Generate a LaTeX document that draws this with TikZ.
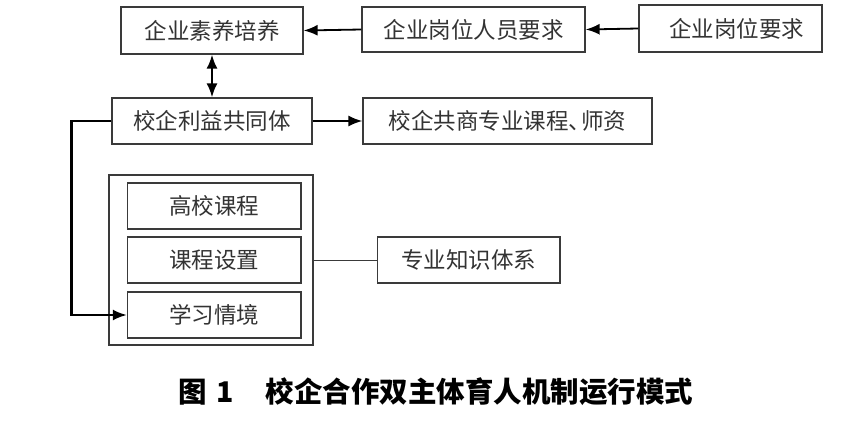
\documentclass[tikz,border=0pt]{standalone}
\usepackage{fontspec}
\newfontfamily\cjk{Noto Sans CJK SC}
\usetikzlibrary{arrows.meta}
\definecolor{boxline}{HTML}{3A3A3A}
\definecolor{txt}{HTML}{333333}
\tikzset{
  box/.style={draw=boxline, line width=1.3pt, inner sep=0pt, font=\cjk\fontsize{22.5}{26}\selectfont, text=txt},
  arr/.style={line width=1.8pt, -{Latex[length=14pt,width=11pt]}},
}
\begin{document}
\begin{tikzpicture}[x=1pt,y=-1pt]
\useasboundingbox (0,0) rectangle (850,420);
\node[box, minimum width=182pt, minimum height=47pt] (A) at (212,30.5) {企业素养培养};
\node[box, minimum width=223pt, minimum height=45pt] (B) at (473.5,29.5) {企业岗位人员要求};
\node[box, minimum width=183pt, minimum height=47pt] (C) at (730.5,28.5) {\hspace*{12pt}企业岗位要求};
\node[box, minimum width=200pt, minimum height=46pt] (D) at (212,121) {校企利益共同体};
\node[box, minimum width=289pt, minimum height=46pt] (E) at (507.5,121) {校企共商专业课程、\kern-10pt师资};
\node[draw=boxline, line width=1.3pt, minimum width=204pt, minimum height=170pt, inner sep=0pt] (F) at (211,260) {};
\node[box, minimum width=173.5pt, minimum height=46pt] (G) at (214.25,206) {高校课程};
\node[box, minimum width=173.5pt, minimum height=46pt] (H) at (214.25,260) {课程设置};
\node[box, minimum width=173.5pt, minimum height=46pt] (I) at (214.25,315) {学习情境};
\node[box, minimum width=182.5pt, minimum height=46pt] (J) at (468.75,260) {专业知识体系};
\coordinate (K1) at (71.5,121);
\coordinate (K2) at (71.5,315);
\draw[arr] (C.west) -- (B.east);
\draw[arr] (B.west) -- (A.east);
\draw[line width=2pt, {Latex[length=14pt,width=11pt]}-{Latex[length=14pt,width=11pt]}] (A.south) -- (D.north);
\draw[arr] (D.east) -- (E.west);
\draw[arr, line width=2.2pt] (D.west) -- (K1) -- (K2) -- (I.west);
\draw[line width=1pt, boxline] (F.east |- J.west) -- (J.west);
\node[font=\cjk\bfseries\fontsize{28.5}{32}\selectfont, text=black] (cap) at (436,392) {图\hspace{9pt}1\hspace{32pt}校企合作双主体育人机制运行模式};
\end{tikzpicture}
\end{document}
